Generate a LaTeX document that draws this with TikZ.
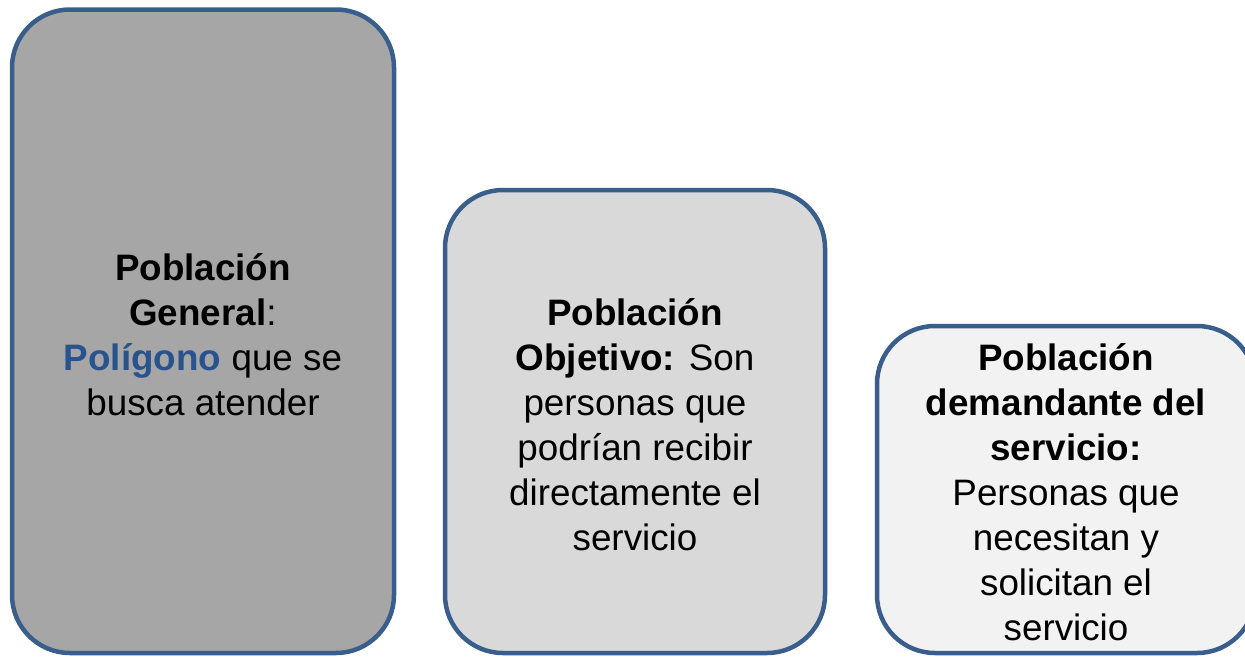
\documentclass[tikz,border=0pt]{standalone}
\usepackage{fontspec}
\setmainfont{Liberation Sans}
\definecolor{bordc}{HTML}{3A5E8C}
\definecolor{fillA}{HTML}{A6A6A6}
\definecolor{fillB}{HTML}{D9D9D9}
\definecolor{fillC}{HTML}{F2F2F2}
\definecolor{bluet}{HTML}{28538F}
\tikzset{
  popbox/.style={draw=bordc, line width=4.5pt, rounded corners=58pt,
    rectangle, inner sep=0pt, outer sep=0pt},
  poptext/.style={align=center, inner sep=0pt,
    font=\fontsize{36.8}{45}\selectfont, text=black}
}
\begin{document}
\begin{tikzpicture}[x=1pt,y=-1pt]
\useasboundingbox (0,0) rectangle (1245,656);
\clip (0,0) rectangle (1245,656);
\node[popbox, fill=fillA, minimum width=382pt, minimum height=643.5pt] (gen) at (203,331.25) {};
\node[popbox, fill=fillB, minimum width=380pt, minimum height=463pt] (obj) at (635,421.5) {};
\node[popbox, fill=fillC, minimum width=378pt, minimum height=327pt] (dem) at (1066,489.5) {};
\node[poptext] (genT) at ([yshift=-3pt]gen.center)
  {\textbf{Población}\\\textbf{General}:\\\textbf{\textcolor{bluet}{Polígono}} que se\\busca atender};
\node[poptext] (objT) at ([yshift=-3pt]obj.center)
  {\textbf{Población}\\\textbf{Objetivo:} Son\\personas que\\podrían recibir\\directamente el\\servicio};
\node[poptext] (demT) at ([yshift=-3pt]dem.center)
  {\textbf{Población}\\\textbf{demandante del}\\\textbf{servicio:}\\Personas que\\necesitan y\\solicitan el\\servicio};
\end{tikzpicture}
\end{document}
